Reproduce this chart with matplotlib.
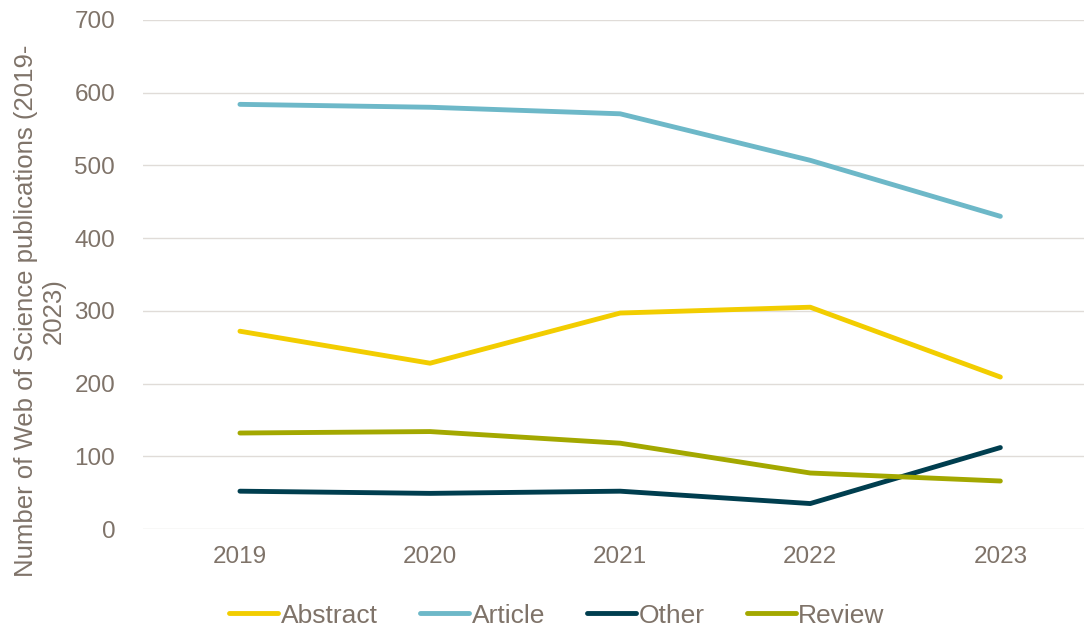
import numpy as np
import matplotlib.pyplot as plt

# %%
years = ["2019", "2020", "2021", "2022", "2023"]
abstract = [272, 228, 297, 305, 209]
article = [584, 580, 571, 507, 430]
other = [52, 49, 52, 35, 112]
review = [132, 134, 118, 77, 66]

series = [
    ("Abstract", abstract, "#F2CD00"),
    ("Article", article, "#6DB8C8"),
    ("Other", other, "#003E4F"),
    ("Review", review, "#A3A800"),
]

text_col = "#7F7369"
plt.rcParams["font.family"] = ["Liberation Sans", "DejaVu Sans"]

# %%
fig = plt.figure(figsize=(10.84, 6.27), dpi=100)
ax = fig.add_axes([143 / 1084, 1 - 529 / 627, 1 - 143 / 1084, (529 - 20) / 627])

x = np.arange(len(years))
for name, vals, col in series:
    ax.plot(x, vals, color=col, lw=3.5, label=name, solid_capstyle="round")

ax.set_xlim(-0.51, 4.44)
ax.set_ylim(0, 700)
ax.set_yticks(range(0, 701, 100))
ax.set_xticks(x, years)
ax.grid(axis="y", color="#E0DCD8", lw=1)
ax.set_axisbelow(True)
for s in ax.spines.values():
    s.set_visible(False)
ax.tick_params(length=0, labelsize=17.5, colors=text_col)
ax.tick_params(axis="x", pad=12)
ax.tick_params(axis="y", pad=20)
ax.set_ylabel("Number of Web of Science publications (2019-\n2023)",
              fontsize=18.5, color=text_col, labelpad=6)
ax.yaxis.label.set_y(0.428)

ax.legend(loc="upper center", bbox_to_anchor=(0.44, -0.1), ncol=4, frameon=False,
          fontsize=19, labelcolor=text_col, handlelength=1.85, handletextpad=0.1,
          columnspacing=1.6)

fig.savefig("out.png", dpi=100)
